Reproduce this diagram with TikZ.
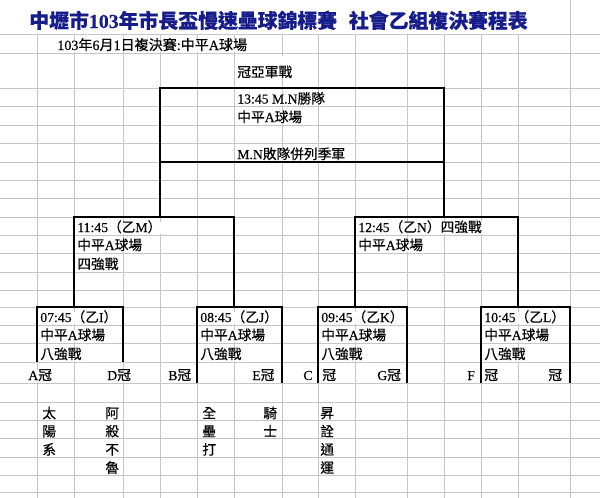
\documentclass[tikz,border=0pt]{standalone}
\usepackage{fontspec}
\setmainfont{Liberation Serif}[FakeBold=0.3]
\newfontfamily\cjk{Noto Sans CJK TC}[FakeBold=0.4]
\newcommand\zh[1]{{\cjk #1}}
\newcommand\venue{\zh{中平}A\zh{球場}}
\definecolor{gridgray}{RGB}{198,198,198}
\definecolor{titleblue}{RGB}{22,28,138}
\tikzset{
  gridline/.style={draw=gridgray,line width=0.5pt},
  bracket/.style={draw=black,line width=1.1pt},
  cell/.style={anchor=base west,inner sep=0pt,fill=white,text height=5.6pt,
    text depth=1pt,font=\fontsize{7.8}{9}\selectfont},
  teamchar/.style={cell,fill=none},
  titletext/.style={anchor=base west,inner sep=0pt,text=titleblue,
    font=\fontsize{11.3}{13}\selectfont\bfseries}
}
\begin{document}
\begin{tikzpicture}[x=0.02cm,y=-0.02cm]
\useasboundingbox (0,0) rectangle (600,498);
% sheet grid
\foreach \x in {37,74,123,160,197,234,282,318,355,407,444,481,518}
  \draw[gridline] (\x,34) -- (\x,498);
\draw[gridline] (570,0) -- (570,498);
\foreach \y in {34,53,88,106.5,125,143.5,162,180,198,217,235,253,272,290,307,325,343,362,383,402,420,438,457,475,492}
  \draw[gridline] (0,\y) -- (600,\y);
% bracket lines
\draw[bracket] (160,88) rectangle (444,162)
  (160,162) -- (160,217) (444,162) -- (444,217)
  (74,307) -- (74,217) -- (234,217) -- (234,307)
  (355,307) -- (355,217) -- (518,217) -- (518,307)
  (37,362) -- (37,307) -- (123,307) -- (123,362)
  (197,383) -- (197,307) -- (282,307) -- (282,383)
  (318,383) -- (318,307) -- (407,307) -- (407,383)
  (481,383) -- (481,307) -- (570,307) -- (570,383);
% headings
\node[titletext] (title) at (29,28) {\zh{中壢市}103\zh{年市長盃慢速壘球錦標賽\hspace{0.6em}社會乙組複決賽程表}};
\node[cell,font=\fontsize{8}{9}\selectfont] (date) at (57,50) {103\zh{年}6\zh{月}1\zh{日複決賽}:\venue};
% final
\node[cell,text height=12pt] (final) at (237,77) {\zh{冠亞軍戰}};
\node[cell] (fin1) at (237,103.5) {13:45 M.N\zh{勝隊}};
\node[cell] (fin2) at (237,122) {\venue};
\node[cell] (fin3) at (237,159) {M.N\zh{敗隊併列季軍}};
% semifinals
\node[cell] (m1) at (77,232) {11:45\zh{（乙}M\zh{）}};
\node[cell] (m2) at (77,250) {\venue};
\node[cell] (m3) at (77,269) {\zh{四強戰}};
\node[cell] (n1) at (358,232) {12:45\zh{（乙}N\zh{）四強戰}};
\node[cell] (n2) at (358,250) {\venue};
% quarterfinals
\node[cell] (i1) at (40,322) {07:45\zh{（乙}I\zh{）}};
\node[cell] (i2) at (40,340) {\venue};
\node[cell] (i3) at (40,359) {\zh{八強戰}};
\node[cell] (j1) at (200,322) {08:45\zh{（乙}J\zh{）}};
\node[cell] (j2) at (200,340) {\venue};
\node[cell] (j3) at (200,359) {\zh{八強戰}};
\node[cell] (k1) at (321,322) {09:45\zh{（乙}K\zh{）}};
\node[cell] (k2) at (321,340) {\venue};
\node[cell] (k3) at (321,359) {\zh{八強戰}};
\node[cell] (l1) at (484,322) {10:45\zh{（乙}L\zh{）}};
\node[cell] (l2) at (484,340) {\venue};
\node[cell] (l3) at (484,359) {\zh{八強戰}};
% group winners
\node[cell] (wa) at (28,380) {A\zh{冠}};
\node[cell] (wd) at (107,380) {D\zh{冠}};
\node[cell] (wb) at (168,380) {B\zh{冠}};
\node[cell] (we) at (252,380) {E\zh{冠}};
\node[cell] (wc) at (303,380) {C};
\node[cell] (wc2) at (322,380) {\zh{冠}};
\node[cell] (wg) at (377,380) {G\zh{冠}};
\node[cell] (wf) at (467,380) {F};
\node[cell] (wf2) at (484,380) {\zh{冠}};
\node[cell] (wh) at (548,380) {\zh{冠}};
% team names
\foreach \c [count=\i] in {太,陽,系}
  \node[teamchar] (sun\i) at (42,400+18.2*\i) {\zh{\c}};
\foreach \c [count=\i] in {阿,殺,不,魯}
  \node[teamchar] (asa\i) at (105,400+18.2*\i) {\zh{\c}};
\foreach \c [count=\i] in {全,壘,打}
  \node[teamchar] (hr\i) at (202,400+18.2*\i) {\zh{\c}};
\foreach \c [count=\i] in {騎,士}
  \node[teamchar] (kn\i) at (263,400+18.2*\i) {\zh{\c}};
\foreach \c [count=\i] in {昇,詮,通,運}
  \node[teamchar] (sc\i) at (320,400+18.2*\i) {\zh{\c}};
\end{tikzpicture}
\end{document}
